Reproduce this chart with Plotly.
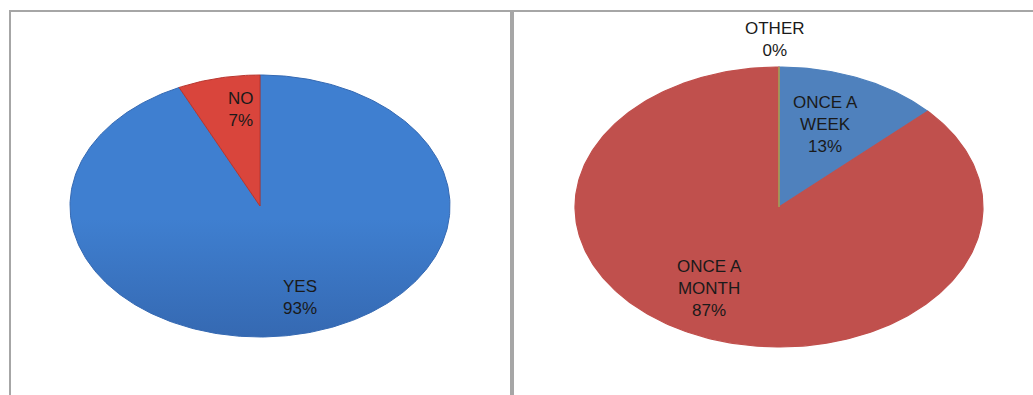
import numpy as np
import plotly.graph_objects as go

# Survey answers (percent of respondents)
usage_labels = ["YES", "NO"]
usage_values = [93, 7]
usage_colors = ["#3F7FD0", "#D9453C"]
usage_shades = ["#3569B2", "#B8362F"]

freq_labels = ["ONCE A WEEK", "ONCE A MONTH", "OTHER"]
freq_values = [13, 87, 0]
freq_colors = ["#4F81BD", "#C0504D", "#9BBB59"]

W, H = 1033, 395
PAD = 1.04  # axis range slightly beyond the unit ellipse so the rim is not clipped


def wedges(values):
    """Yield (x, y) outlines of pie slices, clockwise from 12 o'clock, on the unit circle."""
    total = float(sum(values))
    start = 0.0
    for v in values:
        frac = v / total
        t = np.linspace(start, start + frac, max(2, int(400 * frac) + 2)) * 2 * np.pi
        xs = np.concatenate([[0], np.sin(t), [0]])
        ys = np.concatenate([[0], np.cos(t), [0]])
        start += frac
        yield xs, ys


def px_domain(cx, cy, rx, ry):
    x0, x1 = (cx - rx * PAD) / W, (cx + rx * PAD) / W
    y0, y1 = 1 - (cy + ry * PAD) / H, 1 - (cy - ry * PAD) / H
    return [x0, x1], [y0, y1]


fig = go.Figure()

# ---- left pie: YES / NO, lit from the top ----
for (xs, ys), lab, col, shade, val in zip(wedges(usage_values), usage_labels,
                                          usage_colors, usage_shades, usage_values):
    fig.add_trace(go.Scatter(
        x=xs, y=ys, mode="lines", fill="toself",
        fillgradient=dict(type="vertical", start=-1, stop=1,
                          colorscale=[[0, shade], [0.45, col], [1, col]]),
        line=dict(color=shade, width=1), xaxis="x", yaxis="y",
        hoverinfo="text", text=f"{lab}: {val}%", showlegend=False,
    ))

# ---- right pie: frequency ----
for (xs, ys), lab, col, val in zip(wedges(freq_values), freq_labels, freq_colors, freq_values):
    fig.add_trace(go.Scatter(
        x=xs, y=ys, mode="lines", fill="toself", fillcolor=col,
        line=dict(color=col, width=1.2), xaxis="x2", yaxis="y2",
        hoverinfo="text", text=f"{lab}: {val}%", showlegend=False,
    ))

xd1, yd1 = px_domain(260, 206, 190, 131)
xd2, yd2 = px_domain(779, 207, 204, 140)
ax = dict(range=[-PAD, PAD], visible=False, fixedrange=True)
fig.update_layout(
    width=W, height=H,
    margin=dict(l=0, r=0, t=0, b=0),
    paper_bgcolor="white", plot_bgcolor="rgba(0,0,0,0)",
    xaxis=dict(domain=xd1, **ax), yaxis=dict(domain=yd1, **ax),
    xaxis2=dict(domain=xd2, **ax), yaxis2=dict(domain=yd2, **ax),
)

font = dict(family="Liberation Sans, Arial, sans-serif", size=17, color="#1a1a1a")


def label(text, x, y, ref):
    fig.add_annotation(text=text, x=x, y=y, xref=f"x{ref}", yref=f"y{ref}",
                       xanchor="center", yanchor="middle",
                       showarrow=False, font=font, align="center")


label(f"NO<br>{usage_values[1]}%", -0.10, 0.74, "")
label(f"YES<br>{usage_values[0]}%", 0.21, -0.70, "")
label(f"ONCE A<br>WEEK<br>{freq_values[0]}%", 0.23, 0.59, "2")
label(f"ONCE A<br>MONTH<br>{freq_values[1]}%", -0.34, -0.58, "2")
# the empty slice is labelled just above the rim
fig.add_annotation(text=f"OTHER<br>{freq_values[2]}%", x=775 / W, y=1 - 40 / H,
                   xref="paper", yref="paper", xanchor="center", yanchor="middle",
                   showarrow=False, font=font, align="center")

# Panel frames
border = dict(color="#A6A6A6", width=2)
fig.add_shape(type="rect", xref="paper", yref="paper",
              x0=10 / W, x1=511 / W, y0=-0.05, y1=1 - 11 / H, line=border)
fig.add_shape(type="rect", xref="paper", yref="paper",
              x0=513 / W, x1=1.05, y0=-0.05, y1=1 - 11 / H, line=border)

fig.write_html("out.html")
